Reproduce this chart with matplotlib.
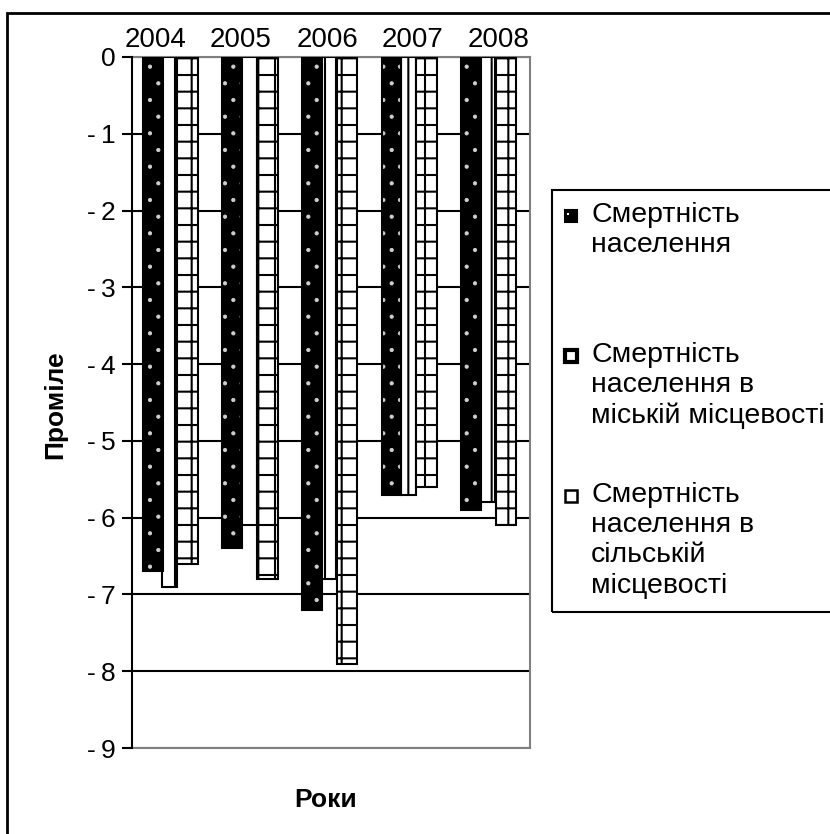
import matplotlib
matplotlib.use("Agg")
import matplotlib.pyplot as plt
from matplotlib.patches import Rectangle
import numpy as np

years = ["2004", "2005", "2006", "2007", "2008"]
total = [-6.7, -6.4, -7.2, -5.7, -5.9]
urban = [-6.9, -6.1, -6.8, -5.7, -5.8]
rural = [-6.6, -6.8, -7.9, -5.6, -6.1]
labels = [
    "Смертність\nнаселення",
    "Смертність\nнаселення в\nміській місцевості",
    "Смертність\nнаселення в\nсільській\nмісцевості",
]
yticks = [0, -1, -2, -3, -4, -5, -6, -7, -8, -9]

W, H = 830, 834
plt.rcParams["font.family"] = ["Liberation Sans", "DejaVu Sans"]
plt.rcParams["hatch.linewidth"] = 1.5

fig = plt.figure(figsize=(W / 100, H / 100), dpi=100)


def fx(px):
    return px / W


def fy(py):
    return 1 - py / H


ax = fig.add_axes([fx(132), fy(748), fx(530) - fx(132), fy(57) - fy(748)])
x = np.arange(len(years))

# black bars with white dots: pattern first, outline on top
dots = ax.bar(x - 0.24, total, 0.25, color="black", edgecolor="#d0d0d0", hatch=".",
              lw=0, zorder=3)
for p in dots:
    if hasattr(p, "set_hatch_linewidth"):
        p.set_hatch_linewidth(0.6)
ax.bar(x - 0.24, total, 0.25, fill=False, edgecolor="black", lw=1.5, zorder=4)
ax.bar(x - 0.03, urban, 0.19, color="white", edgecolor="black", hatch="|", lw=1.5, zorder=3)
ax.bar(x + 0.2, rural, 0.26, color="white", edgecolor="black", hatch="+", lw=1.5, zorder=5)

ax.set_xlim(-0.5, len(years) - 0.5)
ax.set_ylim(-9, 0)
ax.set_yticks(yticks)
ax.set_yticklabels(["0"] + ["-\u2009%d" % -v for v in yticks[1:]], fontsize=19)
ax.yaxis.grid(True, color="black", lw=1.5, zorder=1)
ax.set_axisbelow(True)
ax.tick_params(axis="y", direction="out", length=7, width=1.5, pad=5)

ax.xaxis.tick_top()
ax.set_xticks(x - 0.21 + 0.08 * x)
ax.set_xticklabels(years, fontsize=20)
ax.tick_params(axis="x", length=0, pad=3)

ax.spines["left"].set_linewidth(1.5)
ax.spines["left"].set_zorder(6)
for s in ("right", "bottom", "top"):
    ax.spines[s].set_color("#808080")
    ax.spines[s].set_linewidth(1.5)

fig.text(fx(55), fy(405), "Проміле", rotation=90, ha="center", va="center",
         fontsize=19, fontweight="bold",
         family=["Liberation Sans Narrow", "Liberation Sans", "DejaVu Sans"])
fig.text(fx(326), fy(800), "Роки", ha="center", va="center",
         fontsize=19, fontweight="bold",
         family=["Liberation Sans Narrow", "Liberation Sans", "DejaVu Sans"])

# legend drawn by hand so the entries sit evenly like the original
fig.patches.append(Rectangle((fx(552), fy(612)), fx(900) - fx(552), fy(190) - fy(612),
                             transform=fig.transFigure, fill=False, ec="black", lw=1.5))
keys = [
    dict(fc="black", ec="black", lw=1.5),
    dict(fc="white", ec="black", lw=3),
    dict(fc="white", ec="black", lw=1.8),
]
for i, (lab, k) in enumerate(zip(labels, keys)):
    top = 208 + 140 * i
    fig.patches.append(Rectangle((fx(565), fy(top + 14)), fx(12), 12 / H,
                                 transform=fig.transFigure, **k))
    if i == 0:
        fig.patches.append(Rectangle((fx(567), fy(top + 7)), fx(2), 2 / H,
                                     transform=fig.transFigure, fc="white", lw=0))
    fig.text(fx(591), fy(top - 6), lab, ha="left", va="top", fontsize=20.5,
             linespacing=1.21)

# outer chart border, partly off the canvas like the original
fig.patches.append(Rectangle((fx(7), fy(900)), fx(900) - fx(7), fy(13) - fy(900),
                             transform=fig.transFigure, fill=False, ec="black", lw=2))

fig.savefig("out.png", dpi=100)
